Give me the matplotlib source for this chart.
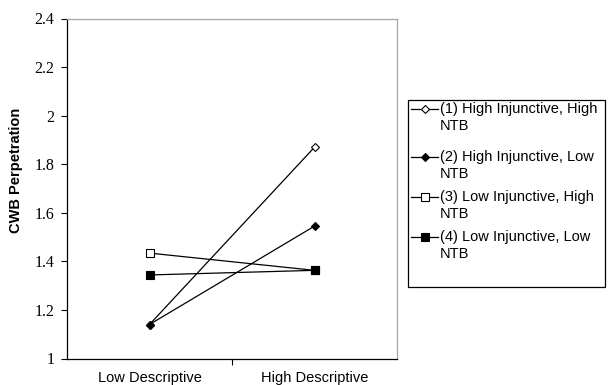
import matplotlib
matplotlib.use("Agg")
import matplotlib.pyplot as plt
from matplotlib.lines import Line2D
from matplotlib.patches import Rectangle

# data
categories = ["Low Descriptive", "High Descriptive"]
series_names = ["(1) High Injunctive, High\nNTB",
                "(2) High Injunctive, Low\nNTB",
                "(3) Low Injunctive, High\nNTB",
                "(4) Low Injunctive, Low\nNTB"]
s1 = [1.14, 1.87]
s2 = [1.14, 1.545]
s3 = [1.434, 1.363]
s4 = [1.344, 1.363]
yticks = [1, 1.2, 1.4, 1.6, 1.8, 2, 2.2, 2.4]
ytick_labels = ["1", "1.2", "1.4", "1.6", "1.8", "2", "2.2", "2.4"]

styles = [
    dict(marker="D", mfc="white", ms=4.5),
    dict(marker="D", mfc="black", ms=4.5),
    dict(marker="s", mfc="white", ms=5.5),
    dict(marker="s", mfc="black", ms=5.5),
]

W, H = 609, 385
fig = plt.figure(figsize=(W / 100, H / 100), dpi=100)
ax = fig.add_axes([67 / W, 1 - 358.5 / H, (397 - 67) / W, (358.5 - 18.5) / H])

xpos = [0.5, 1.5]
for vals, st in zip([s1, s2, s3, s4], styles):
    ax.plot(xpos, vals, color="black", lw=0.9, mec="black", mew=0.8, **st)

ax.set_xlim(0, 2)
ax.set_ylim(1, 2.4)
ax.set_xticks([1])
ax.set_xticklabels([])
ax.set_xticks(xpos, minor=True)
ax.set_xticklabels(categories, minor=True, fontsize=10.5, family="Liberation Sans")
ax.tick_params(axis="x", which="minor", length=0, pad=9)
ax.tick_params(axis="x", which="major", length=4, width=0.8, direction="out")
ax.set_yticks(yticks)
ax.set_yticklabels(ytick_labels, fontsize=11.5, family="Liberation Serif")
ax.tick_params(axis="y", length=4, width=0.8, direction="out", pad=5)

ax.spines["left"].set_color("black")
ax.spines["bottom"].set_color("black")
ax.spines["top"].set_color("#a6a6a6")
ax.spines["right"].set_color("#a6a6a6")
for sp in ax.spines.values():
    sp.set_linewidth(0.9)

fig.text(16 / W, 1 - 170 / H, "CWB Perpetration", rotation=90, ha="center", va="center",
         fontsize=10.5, fontweight="bold", family="Liberation Sans")

# legend box drawn by hand so the marker sits on the first text line
fig.patches.append(Rectangle((408 / W, 1 - 286.5 / H), (605 - 408) / W, (286.5 - 99.5) / H,
                             transform=fig.transFigure, fill=False, ec="black", lw=0.9))
rows = [109, 157, 197, 237]
for name, st, ry in zip(series_names, styles, rows):
    fig.lines.append(Line2D([411 / W, 424.5 / W, 438 / W], [1 - ry / H] * 3,
                            transform=fig.transFigure, color="black", lw=0.9,
                            mec="black", mew=0.8, markevery=[1], **st))
    fig.text(440 / W, 1 - (ry - 7) / H, name, ha="left", va="top", fontsize=10.5,
             family="Liberation Sans", linespacing=1.25)

fig.savefig("out.png", dpi=100)
